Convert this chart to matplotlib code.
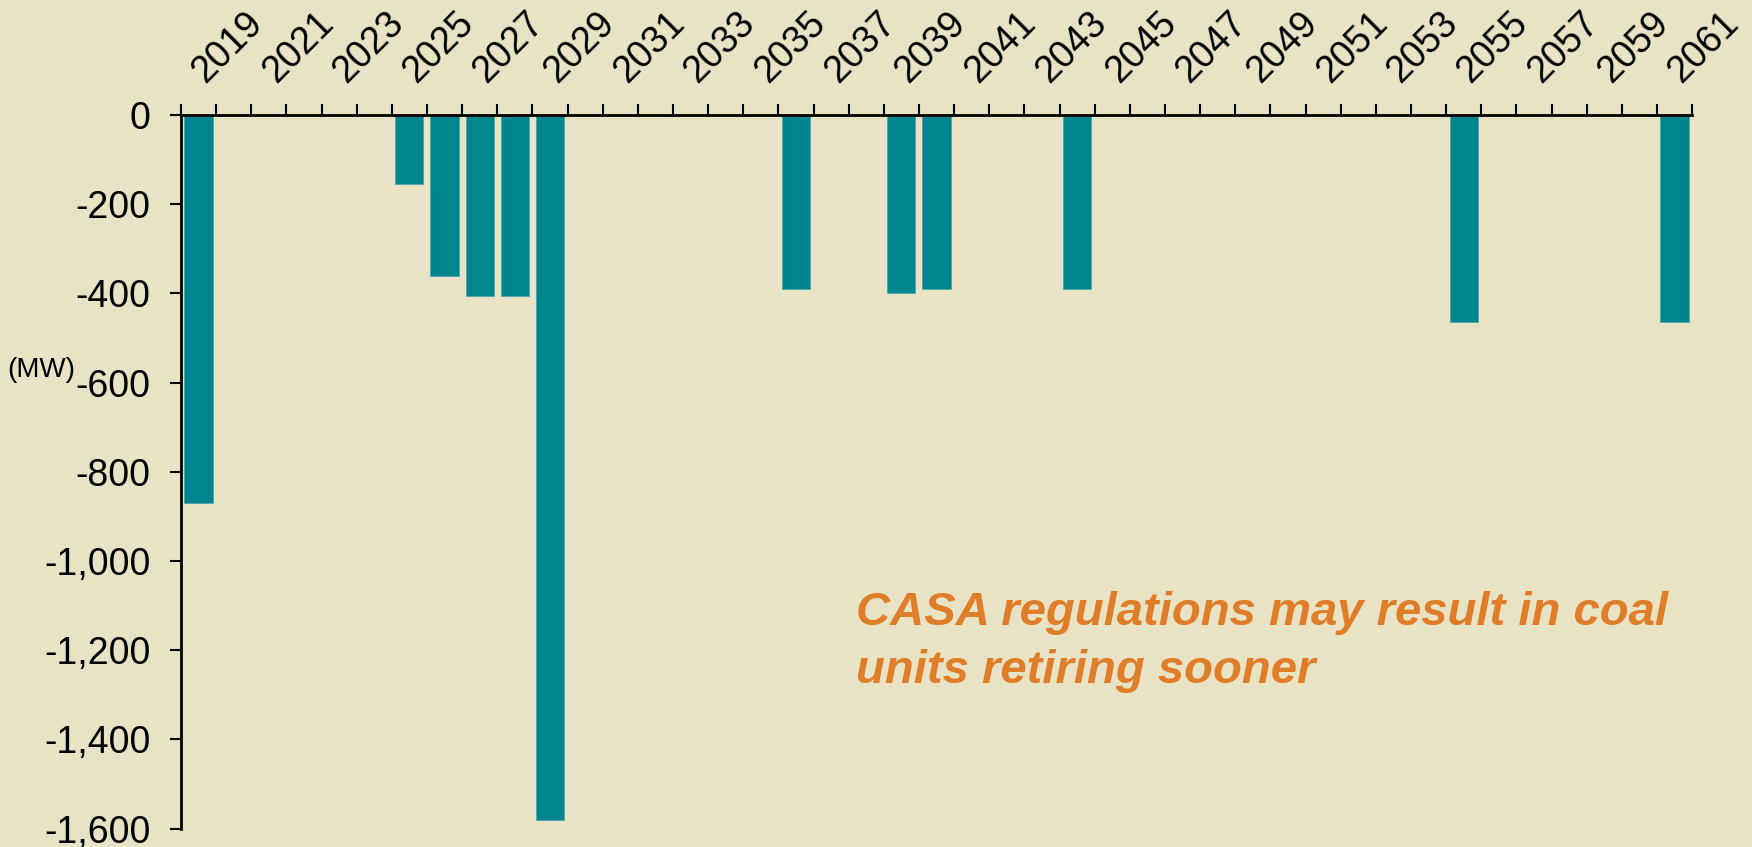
import matplotlib.pyplot as plt
from matplotlib.ticker import FuncFormatter
from matplotlib.transforms import ScaledTranslation

# categories: one slot per year on the top axis
years = list(range(2019, 2062))

# coal unit retirements (MW)
retire_years = [2019, 2025, 2026, 2027, 2028, 2029, 2036, 2039, 2040, 2044, 2055, 2061]
retire_mw = [-870, -155, -362, -405, -405, -1580, -390, -400, -390, -390, -465, -465]

y_ticks = [0, -200, -400, -600, -800, -1000, -1200, -1400, -1600]

note = "CASA regulations may result in coal\nunits retiring sooner"

bg = "#E8E3C5"
teal = "#00868F"
orange = "#E07D28"

plt.rcParams['font.family'] = ['Liberation Sans', 'DejaVu Sans']

fig = plt.figure(figsize=(17.52, 8.47), dpi=100, facecolor=bg)
ax = fig.add_axes([0.1033, 0.0218, 0.8625, 0.8424], facecolor=bg)

pos = [years.index(y) for y in retire_years]
ax.bar(pos, retire_mw, width=0.8, color=teal, edgecolor="#4FA6A9", linewidth=0.6, zorder=2)

ax.set_xlim(-0.5, len(years) - 0.5)
ax.set_ylim(-1600, 0)

# top category axis, labels every other year
ax.xaxis.tick_top()
ax.set_xticks(range(0, len(years), 2))
ax.set_xticklabels([str(y) for y in years[::2]], rotation=45, ha='left', va='bottom',
                   rotation_mode='anchor', fontsize=27)
ax.set_xticks([i - 0.5 for i in range(len(years) + 1)], minor=True)
ax.tick_params(axis='x', which='major', length=0, pad=18)
ax.tick_params(axis='x', which='minor', length=8, width=1.5, direction='out', color='black')
shift = ScaledTranslation(9 / 72, 0, fig.dpi_scale_trans)
for lbl in ax.get_xticklabels():
    lbl.set_transform(lbl.get_transform() + shift)

ax.set_yticks(y_ticks)
ax.yaxis.set_major_formatter(FuncFormatter(lambda v, p: f"{int(v):,}"))
ax.tick_params(axis='y', length=8, width=1.5, direction='out', labelsize=27, pad=14)

for s in ['bottom', 'right']:
    ax.spines[s].set_visible(False)
for s in ['top', 'left']:
    ax.spines[s].set_linewidth(2)

fig.text(0.004, 0.563, "(MW)", fontsize=20, va='center', ha='left')

ax.text(0.4466, 0.204, note, transform=ax.transAxes, fontsize=34, fontweight='bold',
        fontstyle='italic', color=orange, va='baseline', ha='left', linespacing=1.4)

fig.savefig("out.png", dpi=100, facecolor=bg)
